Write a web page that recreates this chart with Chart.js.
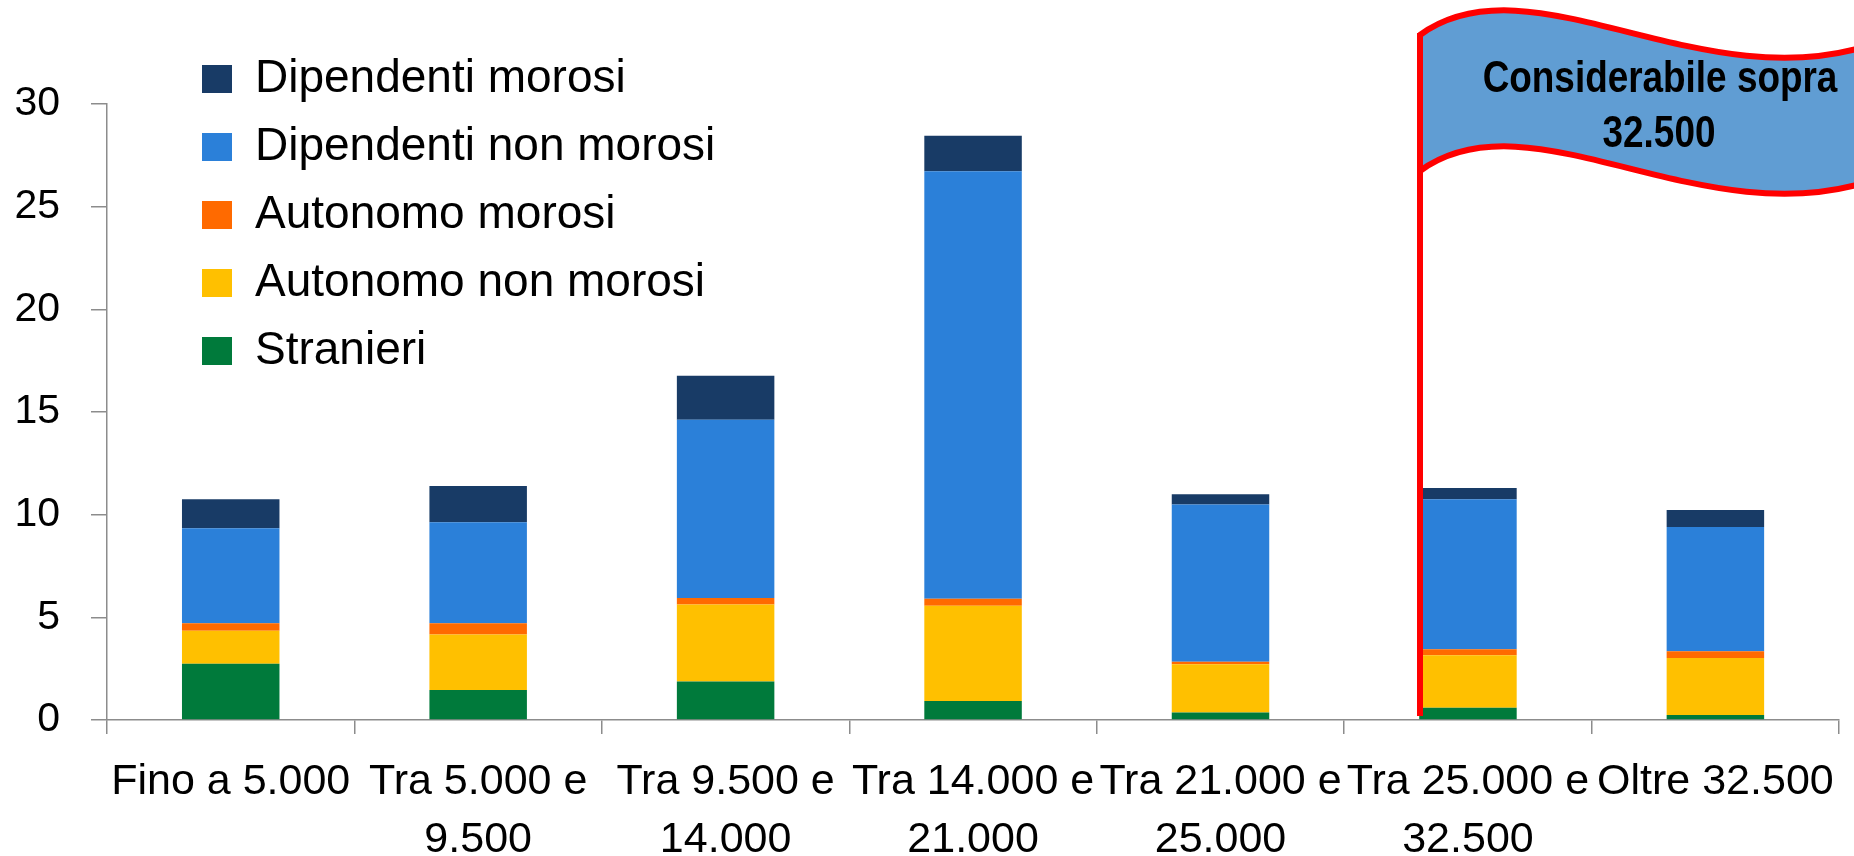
<!DOCTYPE html>
<html>
<head>
<meta charset="utf-8">
<script src="https://cdn.jsdelivr.net/npm/chart.js@4.4.1/dist/chart.umd.min.js"></script>
<style>
	html, body { margin: 0; padding: 0; background: #fff; }
	#wrap { width: 1854px; height: 856px; position: relative; }
</style>
</head>
<body>
<div id="wrap"><canvas id="fasce_reddito_chart"></canvas></div>
<script>
// categorie (fasce di reddito)
var categorie = [
	'Fino a 5.000',
	['Tra 5.000 e', '9.500'],
	['Tra 9.500 e', '14.000'],
	['Tra 14.000 e', '21.000'],
	['Tra 21.000 e', '25.000'],
	['Tra 25.000 e', '32.500'],
	'Oltre 32.500'
];

// valori delle serie (dal basso verso l'alto)
var stranieri           = [2.74, 1.46, 1.87, 0.93, 0.37, 0.60, 0.24];
var autonomoNonMorosi   = [1.61, 2.70, 3.76, 4.64, 2.34, 2.55, 2.78];
var autonomoMorosi      = [0.36, 0.55, 0.31, 0.34, 0.13, 0.29, 0.33];
var dipendentiNonMorosi = [4.63, 4.92, 8.68, 20.81, 7.65, 7.31, 6.05];
var dipendentiMorosi    = [1.41, 1.77, 2.14, 1.73, 0.50, 0.55, 0.83];

var yTicks = [0, 5, 10, 15, 20, 25, 30];
var testoBandiera = ['Considerabile sopra', '32.500'];

var FONT = 'Liberation Sans, Arial, sans-serif';

/* legenda dentro l'area del grafico, spostata in alto a sinistra */
var legendaPlugin = {
	id: 'legendaPos',
	afterLayout: function (chart) {
		var lg = chart.legend;
		if (!lg) return;
		lg.left = chart.chartArea.left + 73;
		lg.top = chart.chartArea.top - 70;
	}
};

/* bandierina "Considerabile sopra 32.500" */
var bandieraPlugin = {
	id: 'bandiera',
	afterDraw: function (chart) {
		var ctx = chart.ctx;
		var area = chart.chartArea;
		var x0 = 1420, h = 136;

		ctx.save();
		ctx.beginPath();
		ctx.moveTo(x0, 35);
		ctx.bezierCurveTo(1530, -45, 1700, 100, 1870, 45);
		ctx.lineTo(1870, 45 + h);
		ctx.bezierCurveTo(1700, 100 + h, 1530, -45 + h, x0, 35 + h);
		ctx.closePath();
		ctx.fillStyle = '#609DD3';
		ctx.fill();
		ctx.lineWidth = 6;
		ctx.strokeStyle = '#FF0000';
		ctx.lineJoin = 'round';
		ctx.stroke();

		// asta
		ctx.beginPath();
		ctx.moveTo(x0, 33);
		ctx.lineTo(x0, area.bottom - 4);
		ctx.stroke();

		// testo (stretto in orizzontale, come un carattere "narrow")
		ctx.fillStyle = '#000';
		ctx.textAlign = 'center';
		ctx.textBaseline = 'middle';
		ctx.font = 'bold 45px ' + FONT;
		ctx.save();
		ctx.translate(1660, 80);
		ctx.scale(0.82, 1);
		ctx.fillText(testoBandiera[0], 0, 0);
		ctx.restore();
		ctx.save();
		ctx.translate(1659, 135);
		ctx.scale(0.82, 1);
		ctx.fillText(testoBandiera[1], 0, 0);
		ctx.restore();
		ctx.restore();
	}
};

function onFasceChart() {
	const fasce_reddito_chart = document.getElementById('fasce_reddito_chart');

	var FasceChart = new Chart(fasce_reddito_chart, {
		type: 'bar',
		data: {
			labels: categorie,
			datasets: [{
				label: 'Stranieri',
				data: stranieri,
				backgroundColor: '#007A3B'
			}, {
				label: 'Autonomo non morosi',
				data: autonomoNonMorosi,
				backgroundColor: '#FFC000'
			}, {
				label: 'Autonomo morosi',
				data: autonomoMorosi,
				backgroundColor: '#FF6A00'
			}, {
				label: 'Dipendenti non morosi',
				data: dipendentiNonMorosi,
				backgroundColor: '#2B80D9'
			}, {
				label: 'Dipendenti morosi',
				data: dipendentiMorosi,
				backgroundColor: '#183B66'
			}]
		},
		options: {
			responsive: true,
			maintainAspectRatio: false,
			animation: false,
			devicePixelRatio: 1,
			datasets: {
				bar: {
					categoryPercentage: 1,
					barPercentage: 0.394,
					borderWidth: 0
				}
			},
			layout: {
				padding: { top: 104, right: 4, left: 0, bottom: 0 }
			},
			scales: {
				x: {
					stacked: true,
					grid: {
						display: true,
						offset: true,
						drawOnChartArea: false,
						tickLength: 14,
						color: '#8c8c8c',
						lineWidth: 1.5
					},
					border: { color: '#8c8c8c', width: 1.5 },
					ticks: {
						color: '#000',
						autoSkip: false,
						maxRotation: 0,
						padding: 20,
						font: { family: FONT, size: 43, lineHeight: 1.33 }
					},
					afterFit: function (scale) { scale.height = 136; }
				},
				y: {
					stacked: true,
					min: 0,
					max: 30,
					afterBuildTicks: function (scale) {
						scale.ticks = yTicks.map(function (v) { return { value: v }; });
					},
					grid: {
						display: true,
						drawOnChartArea: false,
						tickLength: 16,
						color: '#8c8c8c',
						lineWidth: 1.5
					},
					border: { color: '#8c8c8c', width: 1.5 },
					ticks: {
						color: '#000',
						padding: 31,
						font: { family: FONT, size: 41 }
					},
					afterFit: function (scale) { scale.width = 107; }
				}
			},
			plugins: {
				legend: {
					position: 'chartArea',
					align: 'start',
					reverse: true,
					labels: {
						color: '#000',
						boxWidth: 30,
						boxHeight: 28,
						padding: 22,
						font: { family: FONT, size: 46 }
					}
				},
				tooltip: { enabled: false },
				title: { display: false }
			}
		},
		plugins: [legendaPlugin, bandieraPlugin]
	});
}

onFasceChart();
</script>
</body>
</html>
